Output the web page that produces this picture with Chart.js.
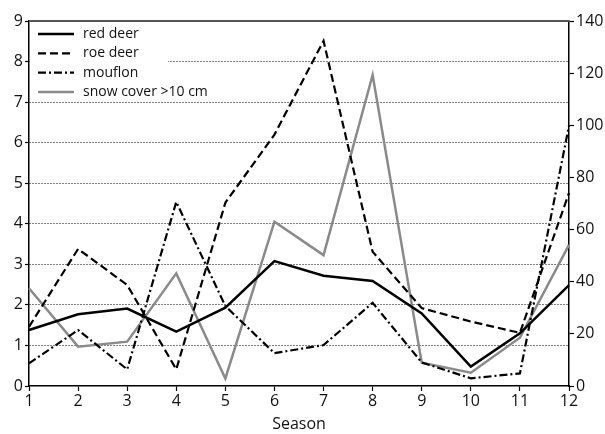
<!DOCTYPE html>
<html><head><meta charset="utf-8">
<script src="https://cdn.jsdelivr.net/npm/chart.js@4.4.0/dist/chart.umd.min.js"></script>
<style>html,body{margin:0;padding:0;background:#fff}#wrap{width:605px;height:434px;position:relative}</style>
</head><body><div id="wrap"><canvas id="c" width="605" height="434"></canvas></div>
<script>
const seasons = ['1','2','3','4','5','6','7','8','9','10','11','12'];
const redDeer = [1.38,1.77,1.91,1.34,1.93,3.08,2.72,2.59,1.79,0.48,1.30,2.49];
const roeDeer = [1.46,3.38,2.49,0.41,4.52,6.2,8.51,3.31,1.92,1.59,1.31,4.76];
const mouflon = [0.56,1.38,0.41,4.54,1.97,0.81,1.01,2.05,0.58,0.19,0.31,6.42];
const snowCover = [37.5,15.1,17.0,43.2,2.9,63.0,50.2,119.3,8.9,5.1,18.5,54.1];
const leftTicks = [0,1,2,3,4,5,6,7,8,9];
const rightTicks = [0,20,40,60,80,100,120,140];
const legendLabels = ['red deer','roe deer','mouflon','snow cover >10 cm'];

const FONT = "'Open Sans', 'DejaVu Sans', sans-serif";

const legendPlugin = {
  id: 'insideLegend',
  afterDraw(chart) {
    const {ctx, chartArea} = chart;
    ctx.save();
    ctx.fillStyle = '#fff';
    ctx.fillRect(chartArea.left + 1, chartArea.top + 2, 138, 77);
    chart.data.datasets.forEach((ds, i) => {
      const y = chartArea.top + 13 + i * 19.3;
      ctx.beginPath();
      ctx.setLineDash(ds.borderDash || []);
      ctx.strokeStyle = ds.borderColor;
      ctx.lineWidth = ds.borderWidth;
      ctx.moveTo(chartArea.left + 9, y);
      ctx.lineTo(chartArea.left + 45, y);
      ctx.stroke();
      ctx.setLineDash([]);
      ctx.fillStyle = '#111';
      ctx.font = '14px ' + FONT;
      ctx.textBaseline = 'middle';
      ctx.fillText(ds.label, chartArea.left + 54, y);
    });
    ctx.restore();
  }
};

const topBorder = {
  id: 'topBorder',
  afterDraw(chart) {
    const {ctx, chartArea} = chart;
    ctx.save();
    ctx.strokeStyle = '#555';
    ctx.lineWidth = 2;
    ctx.beginPath();
    ctx.moveTo(chartArea.left, chartArea.top);
    ctx.lineTo(chartArea.right, chartArea.top);
    ctx.stroke();
    ctx.restore();
  }
};

new Chart(document.getElementById('c'), {
  type: 'line',
  data: {
    labels: seasons,
    datasets: [
      {label: legendLabels[0], data: redDeer, yAxisID: 'y', borderColor: '#000', borderWidth: 2.5, pointRadius: 0, tension: 0, fill: false},
      {label: legendLabels[1], data: roeDeer, yAxisID: 'y', borderColor: '#000', borderWidth: 2.2, borderDash: [8,4], pointRadius: 0, tension: 0, fill: false},
      {label: legendLabels[2], data: mouflon, yAxisID: 'y', borderColor: '#000', borderWidth: 2.2, borderDash: [8,3,2,3], pointRadius: 0, tension: 0, fill: false},
      {label: legendLabels[3], data: snowCover, yAxisID: 'y2', borderColor: '#8a8a8a', borderWidth: 2.5, pointRadius: 0, tension: 0, fill: false}
    ]
  },
  options: {
    responsive: false,
    animation: false,
    layout: {padding: {top: 21, left: 0, right: 0, bottom: 0}},
    plugins: {legend: {display: false}, tooltip: {enabled: false}},
    scales: {
      x: {
        offset: false,
        grid: {drawOnChartArea: false, tickLength: 5, color: '#000', tickColor: '#000', tickWidth: 1.2},
        border: {color: '#000', width: 1.5},
        ticks: {color: '#111', font: {family: FONT, size: 16}, padding: 1, maxRotation: 0, autoSkip: false},
        title: {display: true, text: 'Season', color: '#111', font: {family: FONT, size: 16}, padding: {top: 0, bottom: 0}},
        afterFit(s) { s.height = 48; }
      },
      y: {
        position: 'left',
        min: 0, max: 9,
        afterBuildTicks(s) { s.ticks = leftTicks.map(v => ({value: v})); },
        grid: {
          color: c => (c.tick && (c.tick.value === 0 || c.tick.value === 9)) ? 'rgba(0,0,0,0)' : '#000',
          lineWidth: 1, tickLength: 4, tickColor: '#000', tickWidth: 1.2, tickBorderDash: [0,0]
        },
        border: {color: '#000', width: 1.5, dash: [1,2]},
        ticks: {color: '#111', font: {family: FONT, size: 16}, padding: 2},
        afterFit(s) { s.width = 29; }
      },
      y2: {
        position: 'right',
        min: 0, max: 140,
        afterBuildTicks(s) { s.ticks = rightTicks.map(v => ({value: v})); },
        grid: {drawOnChartArea: false, tickLength: 5, tickColor: '#000', tickWidth: 1.2},
        border: {color: '#000', width: 1.5},
        ticks: {color: '#111', font: {family: FONT, size: 16}, padding: 2},
        afterFit(s) { s.width = 36; }
      }
    }
  },
  plugins: [topBorder, legendPlugin]
});
</script>
</body></html>
